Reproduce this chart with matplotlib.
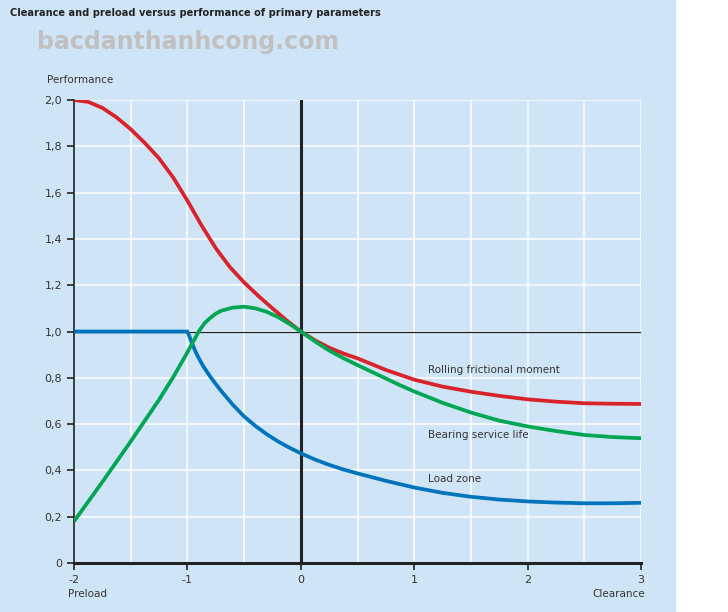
import matplotlib.pyplot as plt
from matplotlib.patches import Rectangle
import numpy as np

# clearance (neg = preload) vs performance
x_red = [-2.0, -1.875, -1.75, -1.625, -1.5, -1.375, -1.25, -1.125, -1.0, -0.875, -0.75, -0.625,
         -0.5, -0.375, -0.25, -0.125, 0.0, 0.125, 0.25, 0.375, 0.5, 0.75, 1.0, 1.25, 1.5, 1.75,
         2.0, 2.25, 2.5, 2.75, 3.0]
y_red = [2.0, 1.992, 1.966, 1.925, 1.874, 1.814, 1.748, 1.665, 1.565, 1.458, 1.36, 1.278,
         1.212, 1.154, 1.1, 1.048, 1.0, 0.962, 0.93, 0.905, 0.884, 0.834, 0.792, 0.762, 0.74, 0.722,
         0.707, 0.697, 0.69, 0.688, 0.687]

x_green = [-2.0, -1.75, -1.5, -1.25, -1.125, -1.0, -0.95, -0.9, -0.85, -0.8, -0.75, -0.7, -0.6,
           -0.5, -0.4, -0.3, -0.2, -0.1, 0.0, 0.125, 0.25, 0.375, 0.5, 0.625, 0.75, 0.875, 1.0,
           1.25, 1.5, 1.75, 2.0, 2.25, 2.5, 2.75, 3.0]
y_green = [0.18, 0.35, 0.525, 0.705, 0.803, 0.91, 0.955, 1.0, 1.035, 1.058, 1.077, 1.09, 1.103,
           1.107, 1.10, 1.085, 1.062, 1.033, 1.0, 0.957, 0.918, 0.885, 0.855, 0.826, 0.797, 0.768, 0.741,
           0.692, 0.65, 0.615, 0.59, 0.57, 0.553, 0.544, 0.539]

x_blue = [-2.0, -1.0, -0.985, -0.96, -0.93, -0.9, -0.86, -0.8, -0.75, -0.7, -0.6, -0.5, -0.4,
          -0.3, -0.2, -0.1, 0.0, 0.125, 0.25, 0.375, 0.5, 0.75, 1.0, 1.25, 1.5, 1.75, 2.0, 2.25,
          2.5, 2.75, 3.0]
y_blue = [1.0, 1.0, 0.982, 0.95, 0.915, 0.885, 0.85, 0.806, 0.773, 0.742, 0.684, 0.633, 0.592,
          0.556, 0.525, 0.498, 0.474, 0.447, 0.424, 0.404, 0.387, 0.355, 0.326, 0.303, 0.286, 0.274, 0.266, 0.261,
          0.258, 0.258, 0.26]

x_ticks = [-2, -1, 0, 1, 2, 3]
y_ticks = [0, 0.2, 0.4, 0.6, 0.8, 1.0, 1.2, 1.4, 1.6, 1.8, 2.0]
y_ticklabels = ['0', '0,2', '0,4', '0,6', '0,8', '1,0', '1,2', '1,4', '1,6', '1,8', '2,0']

bg = '#cfe5f7'
red = '#d9232b'
green = '#00a651'
blue = '#0073bd'
txt = '#333333'

fig = plt.figure(figsize=(7.28, 6.12), dpi=100)
fig.patches.append(Rectangle((0, 0), 676 / 728, 1, transform=fig.transFigure,
                             facecolor=bg, edgecolor='none', zorder=-5))

ax = fig.add_axes([74 / 728, 49 / 612, 567 / 728, 463 / 612])
ax.set_facecolor(bg)
ax.set_xlim(-2, 3)
ax.set_ylim(0, 2.0)

# white grid
for gx in np.arange(-1.5, 3.01, 0.5):
    ax.axvline(gx, color='white', lw=1.1, zorder=1)
for gy in np.arange(0.2, 2.01, 0.2):
    ax.axhline(gy, color='white', lw=1.1, zorder=1)

ax.axhline(1.0, color='#222222', lw=0.9, zorder=2)
ax.axvline(0, color='#222222', lw=2.2, zorder=2)

ax.plot(x_red, y_red, color=red, lw=2.7, zorder=3, solid_capstyle='butt', solid_joinstyle='round')
ax.plot(x_green, y_green, color=green, lw=2.7, zorder=4, solid_capstyle='butt', solid_joinstyle='round')
ax.plot(x_blue, y_blue, color=blue, lw=2.7, zorder=3, solid_capstyle='butt', solid_joinstyle='round')

ax.text(1.12, 0.834, 'Rolling frictional moment', fontsize=7.5, color=txt, va='center')
ax.text(1.12, 0.553, 'Bearing service life', fontsize=7.5, color=txt, va='center')
ax.text(1.12, 0.363, 'Load zone', fontsize=7.5, color=txt, va='center')

for s in ['top', 'right']:
    ax.spines[s].set_visible(False)
ax.spines['left'].set_linewidth(1.2)
ax.spines['left'].set_color('#222222')
ax.spines['bottom'].set_linewidth(2.2)
ax.spines['bottom'].set_color('#222222')

ax.set_xticks(x_ticks)
ax.set_xticklabels([str(v) for v in x_ticks])
ax.set_yticks(y_ticks)
ax.set_yticklabels(y_ticklabels)
ax.tick_params(axis='both', labelsize=8, colors='#222222', labelcolor=txt, length=5, width=1.2)

fig.text(47 / 728, 1 - 80 / 612, 'Performance', fontsize=7.5, color=txt, va='center')
fig.text(68 / 728, 1 - 594 / 612, 'Preload', fontsize=7.5, color=txt, va='center')
fig.text(645 / 728, 1 - 594 / 612, 'Clearance', fontsize=7.5, color=txt, va='center', ha='right')

fig.text(10 / 728, 1 - 13 / 612, 'Clearance and preload versus performance of primary parameters',
         fontsize=7.1, fontweight='bold', color='#222222', va='center')
fig.text(37 / 728, 1 - 42 / 612, 'bacdanthanhcong.com', fontsize=17, color='#c0c0c0',
         va='center', fontweight='bold')

fig.savefig('out.png', dpi=100)
